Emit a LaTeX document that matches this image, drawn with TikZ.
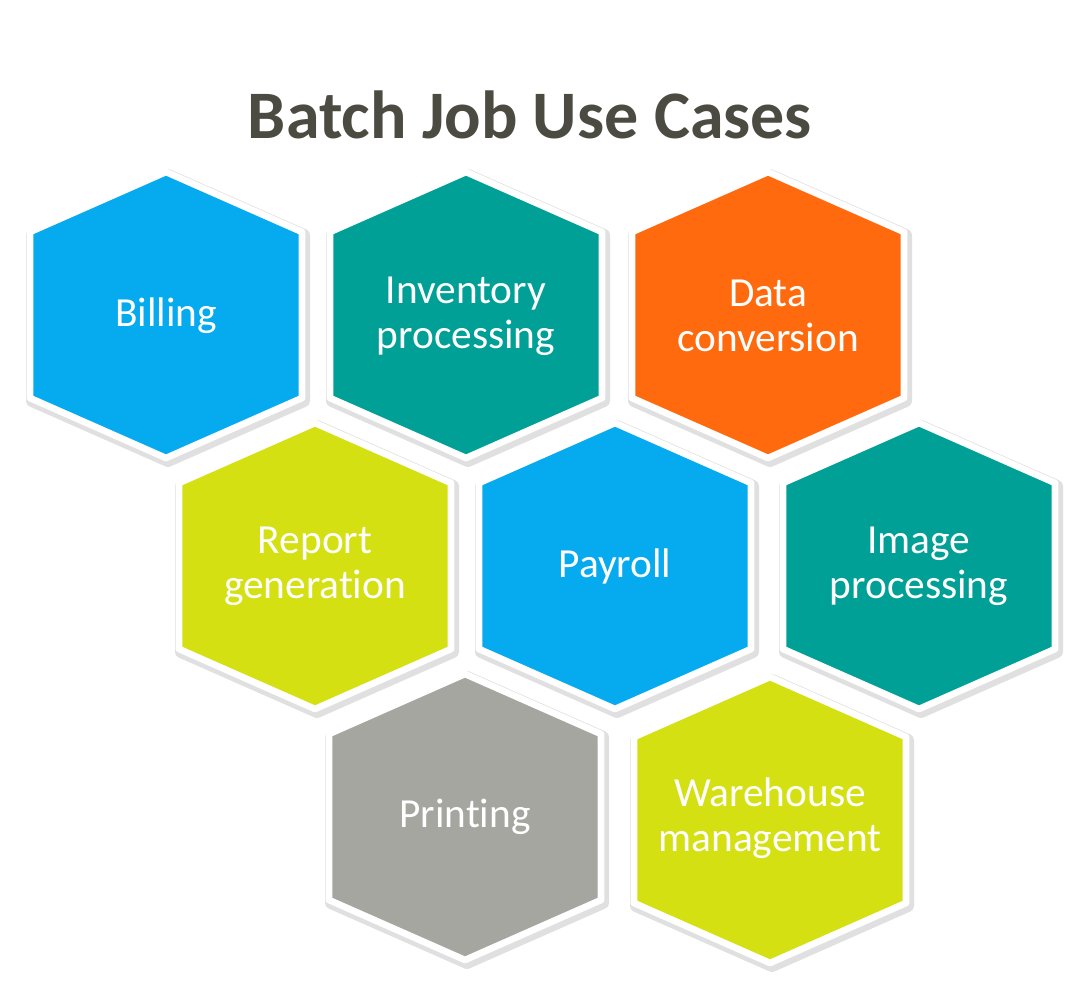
\documentclass[tikz,border=0pt]{standalone}
\usepackage{fontspec}
\setmainfont[Ligatures=CommonOff]{Carlito}
\definecolor{hexblue}{RGB}{6,170,238}
\definecolor{hexteal}{RGB}{0,160,150}
\definecolor{hexorange}{RGB}{255,106,14}
\definecolor{hexlime}{RGB}{212,224,18}
\definecolor{hexgray}{RGB}{165,166,160}
\definecolor{titlegray}{RGB}{76,75,66}
\tikzset{every picture/.style={line width=0.75pt}}
\tikzset{
  hexshadow/.style={draw=black!12, line width=9pt, line join=round},
  hexcell/.style={draw=white, line width=5pt, line join=round},
  hexlabel/.style={text=white, align=center, inner sep=0.75pt, font=\fontsize{31}{34}\selectfont},
}

\begin{document}
\begin{tikzpicture}[x=0.75pt,y=0.75pt,yscale=-1,xscale=1]
\useasboundingbox (0,0) rectangle (1068,992);

% Title
\node (title) at (530,138) [anchor=base, inner sep=0pt, text=titlegray, font=\fontsize{51}{56}\bfseries\selectfont] {Batch Job Use Cases};

%Shadows
\foreach \cx/\cy in {166/315, 466/315, 768/315, 315/566, 615/566, 919/566, 465/817, 770/820}
  \draw [hexshadow, shift={(\cx+2,\cy+3)}] (0,-143) -- (136,-83) -- (136,83) -- (0,143) -- (-136,83) -- (-136,-83) -- cycle ;

%Shape: Hexagon [Billing]
\draw [hexcell, fill=hexblue, shift={(166,315)}] (0,-143) -- (136,-83) -- (136,83) -- (0,143) -- (-136,83) -- (-136,-83) -- cycle ;
%Shape: Hexagon [Inventory]
\draw [hexcell, fill=hexteal, shift={(466,315)}] (0,-143) -- (136,-83) -- (136,83) -- (0,143) -- (-136,83) -- (-136,-83) -- cycle ;
%Shape: Hexagon [Data conversion]
\draw [hexcell, fill=hexorange, shift={(768,315)}] (0,-143) -- (136,-83) -- (136,83) -- (0,143) -- (-136,83) -- (-136,-83) -- cycle ;
%Shape: Hexagon [Report]
\draw [hexcell, fill=hexlime, shift={(315,566)}] (0,-143) -- (136,-83) -- (136,83) -- (0,143) -- (-136,83) -- (-136,-83) -- cycle ;
%Shape: Hexagon [Payroll]
\draw [hexcell, fill=hexblue, shift={(615,566)}] (0,-143) -- (136,-83) -- (136,83) -- (0,143) -- (-136,83) -- (-136,-83) -- cycle ;
%Shape: Hexagon [Image]
\draw [hexcell, fill=hexteal, shift={(919,566)}] (0,-143) -- (136,-83) -- (136,83) -- (0,143) -- (-136,83) -- (-136,-83) -- cycle ;
%Shape: Hexagon [Printing]
\draw [hexcell, fill=hexgray, shift={(465,817)}] (0,-143) -- (136,-83) -- (136,83) -- (0,143) -- (-136,83) -- (-136,-83) -- cycle ;
%Shape: Hexagon [Warehouse]
\draw [hexcell, fill=hexlime, shift={(770,820)}] (0,-143) -- (136,-83) -- (136,83) -- (0,143) -- (-136,83) -- (-136,-83) -- cycle ;

% Text Node
\node (billing) at (166,316) [hexlabel] {Billing};
% Text Node
\node (inventory) at (466,316) [hexlabel] {Inventory\\processing};
% Text Node
\node (dataconv) at (768,316) [hexlabel] {Data\\conversion};
% Text Node
\node (report) at (315,566) [hexlabel] {Report\\generation};
% Text Node
\node (payroll) at (615,566) [hexlabel] {Payroll};
% Text Node
\node (image) at (919,566) [hexlabel] {Image\\processing};
% Text Node
\node (printing) at (465,817) [hexlabel] {Printing};
% Text Node
\node (warehouse) at (770,818) [hexlabel] {Warehouse\\management};

\end{tikzpicture}
\end{document}
